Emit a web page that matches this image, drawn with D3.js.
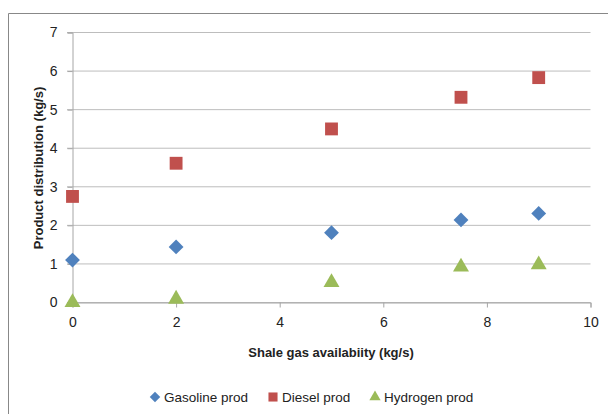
<!DOCTYPE html>
<html>
<head>
<meta charset="utf-8">
<script src="https://cdn.jsdelivr.net/npm/d3@7"></script>
<style>
  body { margin: 0; background: #fff; }
  svg { display: block; font-family: "Liberation Sans", Arial, sans-serif; }
</style>
</head>
<body>
<svg id="chart" width="608" height="414"></svg>
<script>
// data
const shaleGas = [0, 2, 5, 7.5, 9];
const gasoline = [1.1, 1.44, 1.81, 2.14, 2.31];
const diesel = [2.75, 3.61, 4.5, 5.32, 5.83];
const hydrogen = [0.0, 0.09, 0.52, 0.92, 0.98];
const xTicks = [0, 2, 4, 6, 8, 10];
const yTicks = [0, 1, 2, 3, 4, 5, 6, 7];

const series = [
  { name: "Gasoline prod", values: gasoline, color: "#4F81BD", symbol: d3.symbolDiamond2, size: 140 },
  { name: "Diesel prod", values: diesel, color: "#C0504D", symbol: d3.symbolSquare, size: 165 },
  { name: "Hydrogen prod", values: hydrogen, color: "#9BBB59", symbol: d3.symbolTriangle, size: 110 }
];

const svg = d3.select("#chart");

// outer chart frame (only top + left edges are inside the picture)
svg.append("path")
  .attr("d", "M8.5,420 L8.5,13.5 L620,13.5")
  .attr("fill", "none")
  .attr("stroke", "#888")
  .attr("stroke-width", 1);

const xScale = d3.scaleLinear().domain([0, 10]).range([72.5, 590.5]);
const yScale = d3.scaleLinear().domain([0, 7]).range([302.5, 32.5]);

// horizontal gridlines
svg.append("g")
  .selectAll("line")
  .data(yTicks)
  .join("line")
  .attr("x1", 67)
  .attr("x2", xScale(10))
  .attr("y1", d => yScale(d))
  .attr("y2", d => yScale(d))
  .attr("stroke", "#bdbdbd")
  .attr("stroke-width", 1);

// y axis
const yAxis = svg.append("g")
  .attr("transform", `translate(${xScale(0)},0)`)
  .call(d3.axisLeft(yScale).tickValues(yTicks).tickSize(5).tickPadding(10).tickFormat(d3.format("d")));
yAxis.attr("font-size", null).attr("font-family", null);
yAxis.select(".domain").attr("stroke", "#a6a6a6");
yAxis.selectAll(".tick line").attr("stroke", "#a6a6a6");
yAxis.selectAll("text").attr("font-size", 14).attr("fill", "#222");

// x axis
const xAxis = svg.append("g")
  .attr("transform", `translate(0,${yScale(0)})`)
  .call(d3.axisBottom(xScale).tickValues(xTicks).tickSize(5).tickPadding(10).tickFormat(d3.format("d")));
xAxis.attr("font-size", null).attr("font-family", null);
xAxis.select(".domain").attr("stroke", "#a6a6a6");
xAxis.selectAll(".tick line").attr("stroke", "#a6a6a6");
xAxis.selectAll("text").attr("font-size", 14).attr("fill", "#222");

// axis titles
svg.append("text")
  .attr("x", 331)
  .attr("y", 357)
  .attr("text-anchor", "middle")
  .attr("font-weight", "bold")
  .attr("font-size", 13)
  .attr("fill", "#222")
  .text("Shale gas availabiity (kg/s)");

svg.append("text")
  .attr("transform", "translate(43,168) rotate(-90)")
  .attr("text-anchor", "middle")
  .attr("font-weight", "bold")
  .attr("font-size", 13)
  .attr("fill", "#222")
  .text("Product distribution (kg/s)");

// markers
series.forEach(s => {
  svg.append("g")
    .selectAll("path")
    .data(s.values.map((v, i) => ({ x: shaleGas[i], y: v })))
    .join("path")
    .attr("transform", d => `translate(${xScale(d.x)},${yScale(d.y)})`)
    .attr("d", d3.symbol().type(s.symbol).size(s.size))
    .attr("fill", s.color);
});

// legend
const legendX = [155, 273, 375];
const legend = svg.append("g")
  .selectAll("g")
  .data(series)
  .join("g")
  .attr("transform", (d, i) => `translate(${legendX[i]},397)`);

legend.append("path")
  .attr("d", d => d3.symbol().type(d.symbol).size(d.size * 0.5)())
  .attr("fill", d => d.color);

legend.append("text")
  .attr("x", 9)
  .attr("y", 5)
  .attr("font-size", 13.5)
  .attr("fill", "#222")
  .text(d => d.name);
</script>
</body>
</html>
